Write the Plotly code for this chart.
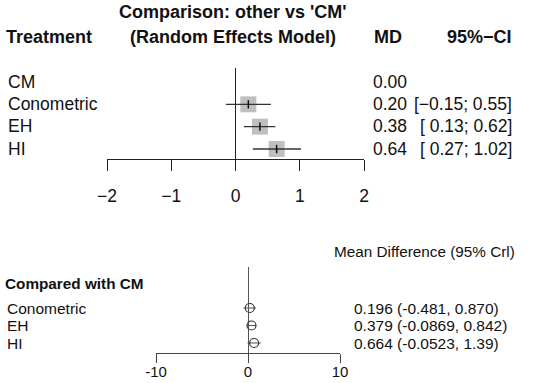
import plotly.graph_objects as go

# ---------------- data ----------------
top_treatments = ["CM", "Conometric", "EH", "HI"]
top_md = [0.00, 0.20, 0.38, 0.64]
top_lo = [None, -0.15, 0.13, 0.27]
top_hi = [None, 0.55, 0.62, 1.02]
top_ticks = [-2, -1, 0, 1, 2]

bot_treatments = ["Conometric", "EH", "HI"]
bot_md = [0.196, 0.379, 0.664]
bot_lo = [-0.481, -0.0869, -0.0523]
bot_hi = [0.870, 0.842, 1.39]
bot_ticks = [-10, 0, 10]

W, H = 550, 383
FONT = "Liberation Sans, Arial, sans-serif"
TXT = "#111111"


def px(x):
    return x / W


def py(y):
    return 1 - y / H


def mfmt(v):
    s = f"{abs(v):.2f}"
    return ("\u2212" + s) if v < 0 else (" " + s)


fig = go.Figure()

# ---------------- top panel ----------------
top_y = [len(top_treatments) - i for i in range(len(top_treatments))]  # 4..1
sq_x = [m for m, lo in zip(top_md, top_lo) if lo is not None]
sq_y = [y for y, lo in zip(top_y, top_lo) if lo is not None]
err_p = [h - m for m, h, lo in zip(top_md, top_hi, top_lo) if lo is not None]
err_m = [m - lo for m, lo in zip(top_md, top_lo) if lo is not None]

fig.add_trace(go.Scatter(
    x=sq_x, y=sq_y, mode="markers", xaxis="x", yaxis="y",
    marker=dict(symbol="square", size=16, color="#BFBFBF", line=dict(width=0)),
    hoverinfo="skip", showlegend=False))
fig.add_trace(go.Scatter(
    x=sq_x, y=sq_y, mode="markers", xaxis="x", yaxis="y",
    marker=dict(symbol="line-ns", size=6, color="#111111",
                line=dict(width=1.5, color="#111111")),
    error_x=dict(type="data", symmetric=False, array=err_p, arrayminus=err_m,
                 width=0, thickness=1.3, color="#333333"),
    hoverinfo="skip", showlegend=False))

# ---------------- bottom panel ----------------
bot_y = [len(bot_treatments) - i for i in range(len(bot_treatments))]  # 3..1
fig.add_trace(go.Scatter(
    x=bot_md, y=bot_y, mode="markers", xaxis="x2", yaxis="y2",
    marker=dict(symbol="circle-open", size=9, color="#333333",
                line=dict(width=1.2, color="#333333")),
    error_x=dict(type="data", symmetric=False,
                 array=[h - m for m, h in zip(bot_md, bot_hi)],
                 arrayminus=[m - lo for m, lo in zip(bot_md, bot_lo)],
                 width=0, thickness=1, color="#555555"),
    hoverinfo="skip", showlegend=False))

ann = []

# top headers
ann.append(dict(x=px(233), y=py(12), text="<b>Comparison: other vs 'CM'</b>",
                xanchor="center", yanchor="middle", font=dict(size=18)))
ann.append(dict(x=px(233), y=py(37), text="<b>(Random Effects Model)</b>",
                xanchor="center", yanchor="middle", font=dict(size=18)))
ann.append(dict(x=px(4), y=py(37), text="<b>Treatment</b>",
                xanchor="left", yanchor="middle", font=dict(size=18)))
ann.append(dict(x=px(388), y=py(37), text="<b>MD</b>",
                xanchor="center", yanchor="middle", font=dict(size=18)))
ann.append(dict(x=px(514), y=py(37), text="<b>95%\u2212CI</b>",
                xanchor="right", yanchor="middle", font=dict(size=18)))

top_rows_px = [82, 104, 126, 149]
for name, m, lo, hi, yy in zip(top_treatments, top_md, top_lo, top_hi, top_rows_px):
    ann.append(dict(x=px(6), y=py(yy), text=name, xanchor="left", yanchor="middle",
                    font=dict(size=17.5)))
    ann.append(dict(x=px(371), y=py(yy), text=f"{m:.2f}", xanchor="left",
                    yanchor="middle", font=dict(size=17.5)))
    if lo is not None:
        ci = "[" + mfmt(lo).lstrip(" ") if lo < 0 else "[" + mfmt(lo)
        ci = ci + ";" + mfmt(hi) + "]"
        ann.append(dict(x=px(514), y=py(yy), text=ci, xanchor="right",
                        yanchor="middle", font=dict(size=17.5)))

# bottom headers
ann.append(dict(x=px(332), y=py(252), text="Mean Difference (95% Crl)",
                xanchor="left", yanchor="middle", font=dict(size=15.3)))
ann.append(dict(x=px(3), y=py(283), text="<b>Compared with CM</b>",
                xanchor="left", yanchor="middle", font=dict(size=15.3)))

bot_rows_px = [308, 325, 343]
for name, m, lo, hi, yy in zip(bot_treatments, bot_md, bot_lo, bot_hi, bot_rows_px):
    ann.append(dict(x=px(5), y=py(yy), text=name, xanchor="left", yanchor="middle",
                    font=dict(size=15.5)))
    ann.append(dict(x=px(352), y=py(yy), text=f"{m:#.3g} ({lo:#.3g}, {hi:#.3g})",
                    xanchor="left", yanchor="middle", font=dict(size=15.5)))

for a in ann:
    a.update(xref="paper", yref="paper", showarrow=False)
    a["font"].update(color=TXT, family=FONT)

fig.update_layout(
    width=W, height=H,
    autosize=False,
    margin=dict(l=0, r=0, t=0, b=0, pad=0, autoexpand=False),
    paper_bgcolor="white", plot_bgcolor="white",
    font=dict(family=FONT, color=TXT),
    showlegend=False,
    annotations=ann,
    xaxis=dict(domain=[px(107), px(364)], range=[-2, 2], anchor="y",
               showline=True, linecolor="#222222", linewidth=1,
               ticks="outside", ticklen=11, tickcolor="#222222", tickwidth=1,
               tickvals=top_ticks,
               ticktext=[("\u2212" + str(-t)) if t < 0 else str(t) for t in top_ticks],
               tickfont=dict(size=17.5, color=TXT), ticklabelstandoff=10,
               showgrid=False, zeroline=True, zerolinecolor="#222222", zerolinewidth=1,
               automargin=False, fixedrange=True),
    yaxis=dict(domain=[py(159), py(68)], range=[0.552, 4.627], anchor="x",
               visible=False, showgrid=False, zeroline=False, automargin=False,
               fixedrange=True),
    xaxis2=dict(domain=[px(156), px(340)], range=[-10, 10], anchor="y2",
                showline=True, linecolor="#444444", linewidth=1,
                ticks="outside", ticklen=9, tickcolor="#444444", tickwidth=1,
                tickvals=bot_ticks, ticktext=[str(t) for t in bot_ticks],
                tickfont=dict(size=15, color=TXT), ticklabelstandoff=-4,
                showgrid=False, zeroline=True, zerolinecolor="#555555", zerolinewidth=1,
                automargin=False, fixedrange=True),
    yaxis2=dict(domain=[py(353), py(267)], range=[0.4286, 5.343], anchor="x2",
                visible=False, showgrid=False, zeroline=False, automargin=False,
                fixedrange=True),
)

fig.write_html(
    "out.html",
    config={"displayModeBar": False},
    post_script="document.body.style.margin='0';document.body.style.padding='0';"
                "document.body.style.overflow='hidden';",
)
